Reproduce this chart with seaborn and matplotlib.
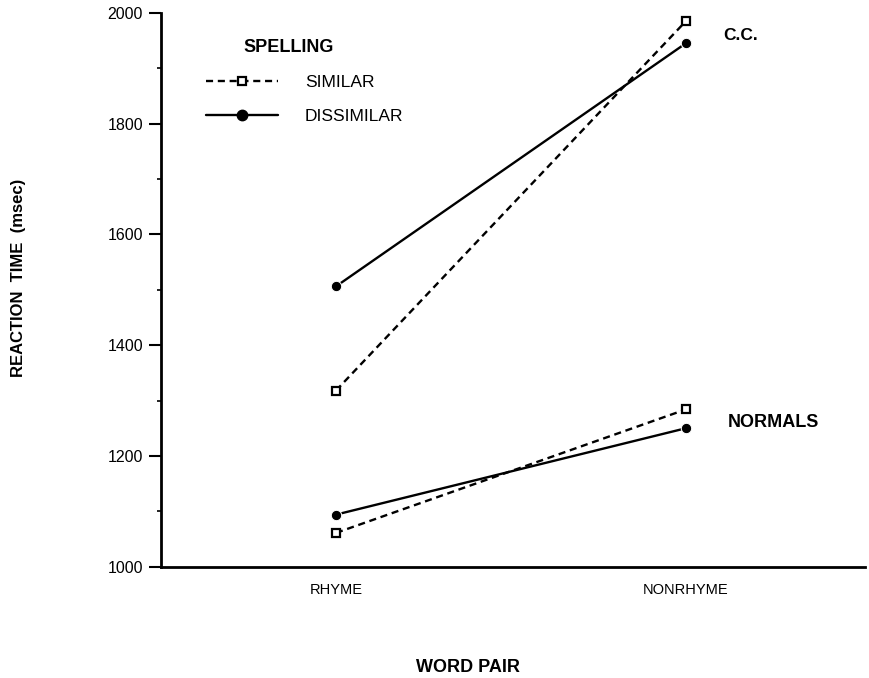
import pandas as pd
import matplotlib
matplotlib.use("Agg")
import matplotlib.pyplot as plt
from matplotlib.lines import Line2D
from matplotlib.ticker import MultipleLocator
import seaborn as sns

# values (reaction time in msec)
word_pair = ["RHYME", "NONRHYME"]
cc_similar = [1318, 1985]
cc_dissimilar = [1506, 1945]
normals_similar = [1061, 1284]
normals_dissimilar = [1094, 1250]

rows = []
for group, spelling, vals in [("C.C.", "SIMILAR", cc_similar),
                              ("C.C.", "DISSIMILAR", cc_dissimilar),
                              ("NORMALS", "SIMILAR", normals_similar),
                              ("NORMALS", "DISSIMILAR", normals_dissimilar)]:
    for wp, v in zip(word_pair, vals):
        rows.append({"group": group, "spelling": spelling,
                     "unit": group + spelling, "word_pair": wp, "rt": v})
df = pd.DataFrame(rows)

sns.set_style("white")
plt.rcParams["font.family"] = ["Liberation Sans", "DejaVu Sans"]
plt.rcParams["text.color"] = "black"
plt.rcParams["xtick.color"] = "black"
plt.rcParams["ytick.color"] = "black"

fig = plt.figure(figsize=(8.7, 6.78), dpi=100)
ax = fig.add_axes([161 / 870, 1 - 566.7 / 678, (865 - 161) / 870,
                   (566.7 - 12.7) / 678])

sns.lineplot(data=df, x="word_pair", y="rt", style="spelling", units="unit",
             estimator=None, color="black", linewidth=1.7,
             dashes={"SIMILAR": (3, 2), "DISSIMILAR": ""},
             markers={"SIMILAR": "s", "DISSIMILAR": "o"},
             markersize=7.5, ax=ax, legend=False)

# open squares for SIMILAR
for line in ax.get_lines():
    if line.get_marker() == "s":
        line.set_markerfacecolor("white")
        line.set_markeredgecolor("black")
        line.set_markeredgewidth(1.6)
        line.set_markersize(6)

ax.set_xlim((161 - 336) / 350, (865 - 336) / 350)
ax.set_ylim(1000, 2000)
ax.yaxis.set_major_locator(MultipleLocator(200))
ax.yaxis.set_minor_locator(MultipleLocator(100))
ax.tick_params(axis="y", which="major", direction="out", length=9, width=1.5,
               labelsize=11.5, left=True, pad=4)
ax.tick_params(axis="y", which="minor", direction="out", length=3, width=1.2,
               left=True)
ax.tick_params(axis="x", length=0, labelsize=10.5, pad=12)
for s in ["top", "right"]:
    ax.spines[s].set_visible(False)
for s in ["left", "bottom"]:
    ax.spines[s].set_linewidth(2)
    ax.spines[s].set_color("black")

ax.set_xlabel("")
ax.set_ylabel("")
fig.text(468 / 870, 1 - 667 / 678, "WORD PAIR", ha="center", va="center",
         fontsize=13, fontweight="bold")
fig.text(19 / 870, 1 - 278 / 678, "REACTION  TIME  (msec)", ha="center",
         va="center", rotation=90, fontsize=12, fontweight="bold")

ax.text(1.106, 1958, "C.C.", fontsize=12.5, fontweight="bold", va="center")
ax.text(1.12, 1260, "NORMALS", fontsize=13, fontweight="bold", va="center")

fig.text(243 / 870, 1 - 47 / 678, "SPELLING", ha="left", va="center",
         fontsize=13, fontweight="bold")
handles = [Line2D([], [], color="black", linestyle=(0, (3, 2)), linewidth=1.7,
                  marker="s", markerfacecolor="white", markersize=6,
                  markeredgewidth=1.6),
           Line2D([], [], color="black", linewidth=1.7, marker="o",
                  markersize=7.5)]
leg = ax.legend(handles, ["SIMILAR", "DISSIMILAR"], loc="upper left",
                bbox_to_anchor=(206 / 870, 1 - 75 / 678),
                bbox_transform=fig.transFigure, frameon=False,
                fontsize=12.5, handlelength=4.15, handletextpad=1.55,
                labelspacing=1.08, borderpad=0, borderaxespad=0)

fig.savefig("out.png", dpi=100)
